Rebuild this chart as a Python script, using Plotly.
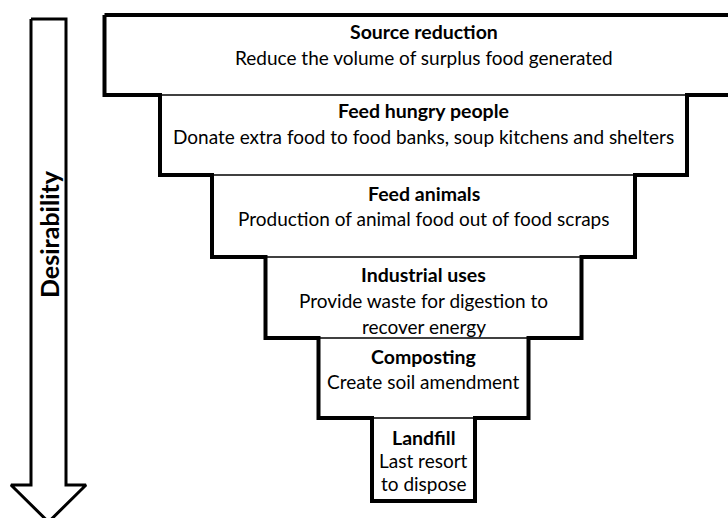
import plotly.graph_objects as go

# ---- data ----
titles = ["Source reduction", "Feed hungry people", "Feed animals",
          "Industrial uses", "Composting", "Landfill"]
descriptions = [
    ["Reduce the volume of surplus food generated"],
    ["Donate extra food to food banks, soup kitchens and shelters"],
    ["Production of animal food out of food scraps"],
    ["Provide waste for digestion to", "recover energy"],
    ["Create soil amendment"],
    ["Last resort", "to dispose"],
]
axis_label = "Desirability"

# ---- layout geometry (pixel-like data space) ----
W, H = 728, 518
cx = 423.5
half_widths = [319, 263.5, 211.5, 158, 105, 51.5]
level_edges = [15, 95, 175, 257, 338, 418, 501]
FONT = "Lato, 'Open Sans', sans-serif"
title_size = 19.5
desc_size = 19

fig = go.Figure()

# outer staircase outline
n = len(titles)
xs, ys = [cx - half_widths[0]], [level_edges[0]]
xs.append(cx + half_widths[0]); ys.append(level_edges[0])
for i in range(n):
    xs.append(cx + half_widths[i]); ys.append(level_edges[i + 1])
    if i + 1 < n:
        xs.append(cx + half_widths[i + 1]); ys.append(level_edges[i + 1])
xs.append(cx - half_widths[-1]); ys.append(level_edges[-1])
for i in range(n - 1, -1, -1):
    xs.append(cx - half_widths[i]); ys.append(level_edges[i + 1])
    xs.append(cx - half_widths[i]); ys.append(level_edges[i])
fig.add_trace(go.Scatter(x=xs, y=ys, mode="lines",
                         line=dict(color="black", width=4),
                         hoverinfo="skip", showlegend=False))

# thin internal dividers
for i in range(1, n):
    fig.add_trace(go.Scatter(x=[cx - half_widths[i], cx + half_widths[i]],
                             y=[level_edges[i], level_edges[i]], mode="lines",
                             line=dict(color="black", width=1.3),
                             hoverinfo="skip", showlegend=False))

# texts
title_offsets = [16, 15, 18, 17, 18, 19]
gaps = [26, 26, 25, 26, 25, 23]
for i in range(n):
    y0 = level_edges[i] + title_offsets[i]
    fig.add_annotation(x=cx, y=y0, text="<b>" + titles[i] + "</b>",
                       showarrow=False, xref="x", yref="y",
                       font=dict(family=FONT, size=title_size, color="black"))
    for j, line in enumerate(descriptions[i]):
        fig.add_annotation(x=cx, y=y0 + gaps[i] * (j + 1),
                           text=line, showarrow=False, xref="x", yref="y",
                           font=dict(family=FONT, size=desc_size, color="black"))

# arrow
ax = [31, 66, 66, 86, 48.5, 11, 31, 31]
ay = [19, 19, 485, 485, 522, 485, 485, 19]
fig.add_trace(go.Scatter(x=ax, y=ay, mode="lines",
                         line=dict(color="black", width=3),
                         hoverinfo="skip", showlegend=False))
fig.add_annotation(x=49, y=234, text="<b>" + axis_label + "</b>",
                   textangle=-90, showarrow=False, xref="x", yref="y",
                   font=dict(family=FONT, size=25, color="black"))

fig.update_layout(
    width=W, height=H, margin=dict(l=0, r=0, t=0, b=0),
    paper_bgcolor="white", plot_bgcolor="white",
    xaxis=dict(range=[0, W], visible=False, fixedrange=True),
    yaxis=dict(range=[H, 0], visible=False, fixedrange=True),
)
fig.write_html("out.html",
               config={"displayModeBar": False, "staticPlot": True},
               post_script="document.body.style.margin='0';"
                           "document.body.style.overflow='hidden';")
